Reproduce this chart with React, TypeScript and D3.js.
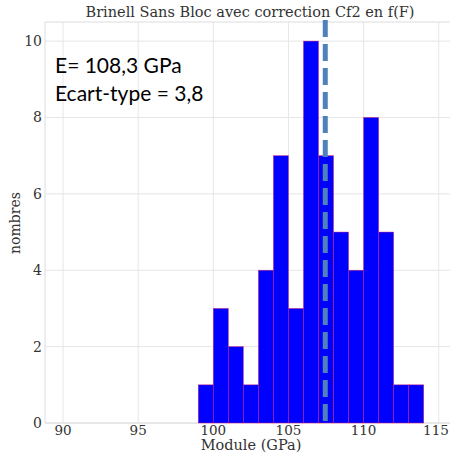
import * as d3 from "d3";

// histogram bins (left edge, GPa) and counts
const binStarts = [99, 100, 101, 102, 103, 104, 105, 106, 107, 108, 109, 110, 111, 112, 113];
const counts = [1, 3, 2, 1, 4, 7, 3, 10, 7, 5, 4, 8, 5, 1, 1];
const binWidth = 1;

const xTicks = [90, 95, 100, 105, 110, 115];
const yTicks = [0, 2, 4, 6, 8, 10];

const meanLine = 107.45;
const title = "Brinell Sans Bloc avec correction Cf2 en f(F)";
const xLabel = "Module (GPa)";
const yLabel = "nombres";
const notes = ["E= 108,3 GPa", "Ecart-type = 3,8"];

const W = 450;
const H = 453;
const MARGIN = { top: 22, right: 0, bottom: 30, left: 45 };
const SERIF = "'DejaVu Serif', serif";

export default function App() {
  const boundsW = W - MARGIN.left - MARGIN.right;
  const boundsH = H - MARGIN.top - MARGIN.bottom;

  const x = d3.scaleLinear().domain([88.8, 115.75]).range([MARGIN.left, MARGIN.left + boundsW]);
  const y = d3.scaleLinear().domain([0, 10.5]).range([MARGIN.top + boundsH, MARGIN.top]);

  const gridColor = "#e6e6e6";

  return (
    <svg width={W} height={H} style={{ position: "absolute", left: 0, top: 0, background: "#fff" }}>
      {/* grid */}
      {xTicks.map((t) => (
        <line key={"gx" + t} x1={x(t)} x2={x(t)} y1={MARGIN.top} y2={y(0)} stroke={gridColor} strokeWidth={1} />
      ))}
      {yTicks.map((t) => (
        <line key={"gy" + t} x1={MARGIN.left} x2={W} y1={y(t)} y2={y(t)} stroke={gridColor} strokeWidth={1} />
      ))}
      {/* frame */}
      <line x1={MARGIN.left} x2={W} y1={MARGIN.top} y2={MARGIN.top} stroke="#dcdcdc" />
      <line x1={MARGIN.left} x2={MARGIN.left} y1={MARGIN.top} y2={y(0)} stroke="#dcdcdc" />
      <line x1={MARGIN.left} x2={W} y1={y(0)} y2={y(0)} stroke="#dcdcdc" />

      {/* bars */}
      {binStarts.map((b, i) => (
        <rect
          key={b}
          x={x(b)}
          y={y(counts[i])}
          width={x(b + binWidth) - x(b)}
          height={y(0) - y(counts[i])}
          fill="#0000ff"
          stroke="#e0156a"
          strokeWidth={0.6}
          strokeOpacity={0.7}
        />
      ))}

      {/* mean line */}
      <line
        x1={x(meanLine)}
        x2={x(meanLine)}
        y1={MARGIN.top - 2}
        y2={y(0) - 2}
        stroke="#4f81bd"
        strokeWidth={5}
        strokeDasharray="17 7"
      />

      {/* tick labels (last one kept inside the edge) */}
      {xTicks.map((t) => (
        <text key={"tx" + t} x={Math.min(x(t), W - 14)} y={y(0) + 12} textAnchor="middle" fontFamily={SERIF} fontSize={13.5} fill="#333">
          {t}
        </text>
      ))}
      {yTicks.map((t) => (
        <text key={"ty" + t} x={MARGIN.left - 3} y={y(t) + 5} textAnchor="end" fontFamily={SERIF} fontSize={14} fill="#333">
          {t}
        </text>
      ))}

      {/* titles */}
      <text x={250} y={17} textAnchor="middle" fontFamily={SERIF} fontSize={14.5} fill="#333">
        {title}
      </text>
      <text x={251} y={450} textAnchor="middle" fontFamily={SERIF} fontSize={14.5} fill="#333">
        {xLabel}
      </text>
      <text transform={`translate(20,${223}) rotate(-90)`} textAnchor="middle" fontFamily={SERIF} fontSize={14} fill="#333">
        {yLabel}
      </text>

      {/* annotation */}
      {notes.map((n, i) => (
        <text key={n} x={55} y={73 + i * 28} fontFamily="Lato, 'Open Sans', sans-serif" fontSize={21} fill="#000">
          {n}
        </text>
      ))}
    </svg>
  );
}
